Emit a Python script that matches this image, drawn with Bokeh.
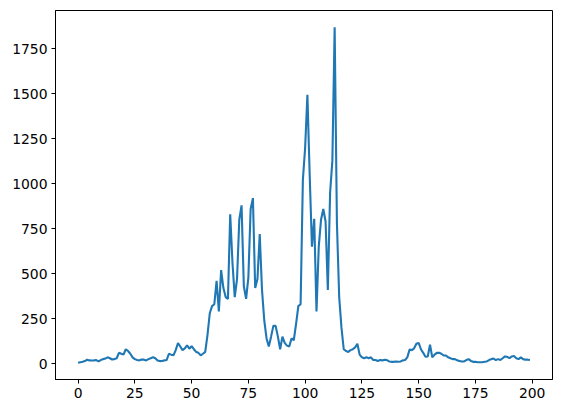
from bokeh.plotting import figure
from bokeh.models import Range1d, FixedTicker, ColumnDataSource
from bokeh.embed import file_html
from bokeh.resources import INLINE

values = [
    5, 8, 10, 14, 22, 18, 17, 18, 20, 12,
    20, 25, 28, 35, 30, 23, 25, 30, 60, 55,
    50, 80, 70, 55, 35, 25, 20, 18, 23, 22,
    18, 25, 30, 35, 30, 18, 14, 15, 18, 20,
    55, 50, 46, 75, 115, 95, 75, 85, 102, 83,
    97, 80, 65, 60, 46, 55, 65, 160, 280, 320,
    330, 460, 290, 520, 420, 370, 360, 830, 560, 370,
    470, 800, 880, 430, 360, 480, 860, 920, 420, 470,
    720, 410, 240, 140, 95, 150, 210, 210, 150, 80,
    150, 115, 100, 95, 140, 130, 220, 320, 330, 1020,
    1200, 1495, 1050, 650, 805, 290, 650, 800, 860, 790,
    410, 950, 1130, 1870, 780, 370, 200, 80, 70, 65,
    75, 80, 90, 110, 50, 35, 30, 35, 30, 35,
    20, 20, 15, 20, 18, 22, 20, 12, 10, 10,
    12, 10, 12, 18, 20, 35, 78, 75, 85, 110,
    115, 80, 60, 38, 40, 105, 35, 50, 60, 60,
    55, 45, 45, 35, 30, 25, 25, 18, 15, 12,
    12, 20, 25, 15, 10, 10, 8, 8, 8, 10,
    12, 20, 25, 28, 20, 25, 20, 30, 40, 38,
    30, 40, 42, 30, 25, 35, 25, 22, 22, 20,
]
xs = list(range(len(values)))
x_ticks = [0, 25, 50, 75, 100, 125, 150, 175, 200]
y_ticks = [0, 250, 500, 750, 1000, 1250, 1500, 1750]

xmin, xmax = min(xs), max(xs)
ymin, ymax = min(values), max(values)
xpad = 0.05 * (xmax - xmin)
ypad = 0.05 * (ymax - ymin)

p = figure(width=553, height=405, output_backend="svg", toolbar_location=None,
           x_range=Range1d(xmin - xpad, xmax + xpad),
           y_range=Range1d(ymin - ypad, ymax + ypad),
           min_border_left=55, min_border_right=1, min_border_top=10, min_border_bottom=26)

src = ColumnDataSource(dict(x=xs, y=values))
p.line("x", "y", source=src, line_color="#1f77b4", line_width=2.1)

p.xgrid.visible = False
p.ygrid.visible = False
p.outline_line_color = "black"
p.outline_line_alpha = 1
p.outline_line_width = 1
p.background_fill_color = "white"
p.border_fill_color = "white"

p.xaxis.ticker = FixedTicker(ticks=x_ticks)
p.yaxis.ticker = FixedTicker(ticks=y_ticks)
for ax in (p.xaxis[0], p.yaxis[0]):
    ax.axis_line_color = "black"
    ax.major_tick_line_color = "black"
    ax.major_tick_out = 4
    ax.major_tick_in = 0
    ax.minor_tick_line_color = None
    ax.major_label_text_font = "DejaVu Sans"
    ax.major_label_text_font_size = "13.9px"
    ax.major_label_text_color = "black"
    ax.major_label_standoff = 4

open("out.html", "w").write(file_html(p, INLINE))
